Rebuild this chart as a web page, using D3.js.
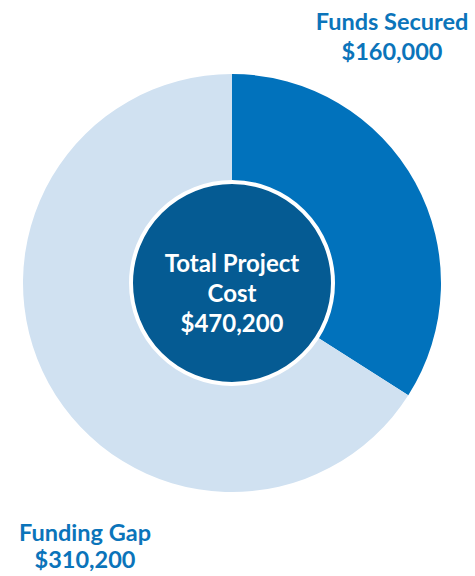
<!DOCTYPE html>
<html>
<head>
<meta charset="utf-8">
<script src="https://cdn.jsdelivr.net/npm/d3@7"></script>
<style>
  body { margin: 0; background: #fff; }
  svg { display: block; font-family: Lato, "Open Sans", sans-serif; }
</style>
</head>
<body>
<div id="chart"></div>
<script>
// Chart data
const categories = ["Funds Secured", "Funding Gap"];
const values = [160000, 310200];
const valueLabels = ["$160,000", "$310,200"];
const centerLines = ["Total Project", "Cost", "$470,200"];

const width = 475;
const height = 576;
const cx = 232, cy = 283;
const outerR = 209;
const innerR = 101;

const colors = d3.scaleOrdinal().domain(categories).range(["#0172bc", "#d0e1f1"]);

const svg = d3.select("#chart")
  .append("svg")
  .attr("width", width)
  .attr("height", height);

const data = categories.map((c, i) => ({ category: c, value: values[i], label: valueLabels[i] }));

const pie = d3.pie().value(d => d.value).sort(null);
const arc = d3.arc().innerRadius(0).outerRadius(outerR);

const g = svg.append("g").attr("transform", `translate(${cx},${cy})`);

g.selectAll(".slice")
  .data(pie(data))
  .enter()
  .append("path")
  .attr("class", "slice")
  .attr("d", arc)
  .attr("fill", d => colors(d.data.category));

// center circle
g.append("circle")
  .attr("r", innerR)
  .attr("fill", "#055b93")
  .attr("stroke", "#ffffff")
  .attr("stroke-width", 4);

g.append("text")
  .attr("text-anchor", "middle")
  .attr("fill", "#ffffff")
  .attr("font-size", "24px")
  .attr("font-weight", "bold")
  .selectAll("tspan")
  .data(centerLines)
  .enter()
  .append("tspan")
  .attr("x", 0)
  .attr("y", (d, i) => -11 + i * 30)
  .text(d => d);

// outside labels
const labelPos = [
  { x: 392, y: 30, gap: 30 },
  { x: 85, y: 541, gap: 27 }
];

data.forEach((d, i) => {
  const t = svg.append("text")
    .attr("text-anchor", "middle")
    .attr("fill", "#0b74ba")
    .attr("font-size", "23.5px")
    .attr("font-weight", "bold");
  t.append("tspan").attr("x", labelPos[i].x).attr("y", labelPos[i].y).text(d.category);
  t.append("tspan").attr("x", labelPos[i].x).attr("y", labelPos[i].y + labelPos[i].gap).text(d.label);
});
</script>
</body>
</html>
